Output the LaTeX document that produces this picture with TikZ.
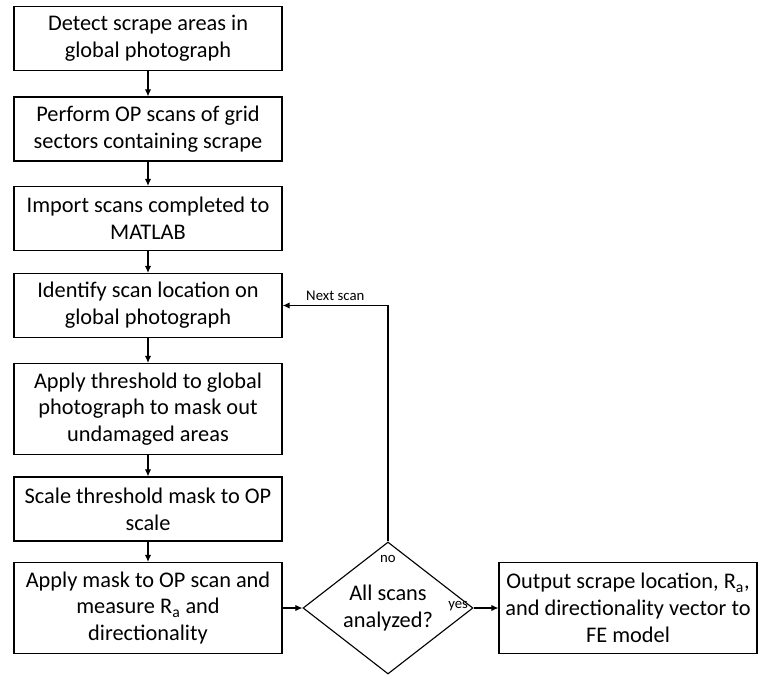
\documentclass[tikz,border=0pt]{standalone}
\usepackage{fontspec}
\setmainfont{Carlito}
\usepackage{tikz}
\usetikzlibrary{arrows.meta, positioning, shapes.geometric}

\begin{document}
\begin{tikzpicture}[>={Latex[length=5pt, width=4.5pt]},
    stepbox/.style={draw=black, line width=0.8pt, align=center, minimum width=6.7cm, minimum height=1.6cm, inner sep=2pt, font=\fontsize{15.9}{19}\selectfont},
    tallbox/.style={stepbox, minimum height=2.275cm},
    decision/.style={diamond, aspect=1.29, draw=black, line width=0.8pt, align=center, minimum width=4.25cm, minimum height=3.3cm, inner sep=0pt, font=\fontsize{15.9}{19}\selectfont},
    lbl/.style={font=\fontsize{10.5}{12}\selectfont, inner sep=1pt},
    flow/.style={->, line width=0.8pt}]
    \useasboundingbox (0,0) rectangle (18.975,16.85);

    % Steps down the left
    \node[stepbox] (detect) at (3.7,15.8875) {Detect scrape areas in\\global photograph};
    \node[stepbox] (opscan) at (3.7,13.625) {Perform OP scans of grid\\sectors containing scrape};
    \node[stepbox] (import) at (3.7,11.3875) {Import scans completed to\\MATLAB};
    \node[stepbox] (locate) at (3.7,9.2125) {Identify scan location on\\global photograph};
    \node[tallbox] (threshold) at (3.7,6.625) {Apply threshold to global\\photograph to mask out\\undamaged areas};
    \node[stepbox] (scalemask) at (3.7,4.125) {Scale threshold mask to OP\\scale};
    \node[tallbox] (measure) at (3.7,1.65) {Apply mask to OP scan and\\measure R\textsubscript{a} and\\directionality};

    % Decision and output
    \node[decision] (check) at (9.7,1.65) {All scans\\analyzed?};
    \node[tallbox, minimum width=6.45cm] (output) at (15.7,1.65) {Output scrape location, R\textsubscript{a},\\and directionality vector to\\FE model};

    % Arrows
    \draw[flow] (detect) -- (opscan);
    \draw[flow] (opscan) -- (import);
    \draw[flow] (import) -- (locate);
    \draw[flow] (locate) -- (threshold);
    \draw[flow] (threshold) -- (scalemask);
    \draw[flow] (scalemask) -- (measure);
    \draw[flow] (measure) -- (check);
    \draw[flow] (check) -- (output);
    \draw[flow] (check.north) |- node[lbl, above=2pt, pos=0.75] {Next scan} (locate.east);

    % Branch labels
    \node[lbl, below=0.3cm of check.north] (nolabel) {no};
    \node[lbl, left=0.1cm of check.east, yshift=1pt] (yeslabel) {yes};
\end{tikzpicture}
\end{document}
